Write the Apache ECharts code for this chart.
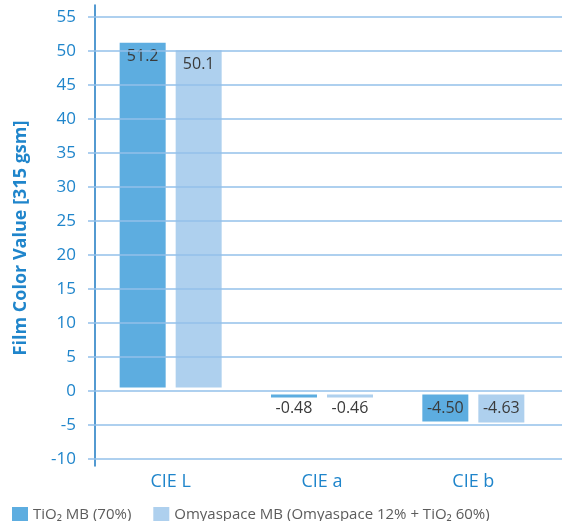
<!DOCTYPE html>
<html>
<head>
<meta charset="utf-8">
<script src="https://cdn.jsdelivr.net/npm/echarts@6/dist/echarts.min.js"></script>
<style>
  html, body { margin: 0; padding: 0; background: #ffffff; }
  #chart { width: 562px; height: 521px; }
</style>
</head>
<body>
<div id="chart"></div>
<script>
// Film colour values per CIE coordinate
const categories = ['CIE L', 'CIE a', 'CIE b'];
const tio2Values = [51.2, -0.48, -4.50];
const omyaValues = [50.1, -0.46, -4.63];
const labelDecimals = [1, 2, 2];
const seriesNames = ['TiO₂ MB (70%)', 'Omyaspace MB (Omyaspace 12% + TiO₂ 60%)'];
const yTicks = { min: -10, max: 55, step: 5 };

const FONT = '"Open Sans", "Noto Sans", sans-serif';
const BLUE_TEXT = '#1f85cb';
const GRID_COLOR = '#93c0ea';
const BAR_W = 46;      // px
const PAIR_GAP = 10;   // px between the two bars of a category
const BASE_GAP = 3.5;  // bars float slightly off the zero line
const MIN_H = 3;

function barRenderer(side) {
  return function (params, api) {
    const idx = api.value(0);
    const v = api.value(1);
    const zero = api.coord([idx, 0]);
    const end = api.coord([idx, v]);
    const x = side < 0 ? zero[0] - PAIR_GAP / 2 - BAR_W : zero[0] + PAIR_GAP / 2;
    const dir = v >= 0 ? -1 : 1;
    const nearY = zero[1] + dir * BASE_GAP;
    let farY = end[1];
    if ((farY - nearY) * dir < MIN_H) farY = nearY + dir * MIN_H;
    return {
      type: 'rect',
      shape: { x: x, y: Math.min(nearY, farY), width: BAR_W, height: Math.abs(farY - nearY) },
      style: { fill: api.visual('color') },
      textContent: {
        style: {
          text: v.toFixed(labelDecimals[idx]),
          fill: '#3a3a3a',
          fontSize: 16,
          fontFamily: FONT
        }
      },
      textConfig: { position: 'insideTop', distance: 6, inside: false }
    };
  };
}

const chart = echarts.init(document.getElementById('chart'), null, { renderer: 'canvas' });

chart.setOption({
  backgroundColor: '#ffffff',
  animation: false,
  textStyle: { fontFamily: FONT },
  legend: {
    left: 7,
    top: 502,
    itemWidth: 16,
    itemHeight: 16,
    itemGap: 22,
    icon: 'rect',
    textStyle: { fontSize: 15, color: '#5c5c5c', fontFamily: FONT },
    data: seriesNames
  },
  grid: [
    // gridlines, ticks and value labels
    { left: 95, right: 0, top: 17, bottom: 62, containLabel: false },
    // bars and category labels
    { left: 95, right: 13, top: 17, bottom: 62, containLabel: false },
    // vertical axis line (runs a little past the value range)
    { left: 95, right: 0, top: 5, bottom: 55, containLabel: false }
  ],
  xAxis: [
    { type: 'value', gridIndex: 0, show: false },
    {
      type: 'category', gridIndex: 1, data: categories,
      axisLine: { show: false }, axisTick: { show: false },
      axisLabel: { color: BLUE_TEXT, fontSize: 18, margin: 14, fontFamily: FONT }
    },
    { type: 'value', gridIndex: 2, show: false }
  ],
  yAxis: [
    {
      type: 'value', gridIndex: 0, z: 3,
      min: yTicks.min, max: yTicks.max, interval: yTicks.step,
      name: 'Film Color Value [315 gsm]',
      nameLocation: 'middle', nameRotate: 90, nameGap: 65,
      nameTextStyle: { color: BLUE_TEXT, fontSize: 18, fontWeight: 'bold', fontFamily: FONT },
      axisLine: { show: false },
      axisTick: { show: true, length: 7, lineStyle: { color: GRID_COLOR, width: 1.5 } },
      axisLabel: { color: BLUE_TEXT, fontSize: 17, margin: 19, fontFamily: FONT },
      splitLine: { show: true, lineStyle: { color: GRID_COLOR, width: 1.5 } }
    },
    {
      type: 'value', gridIndex: 1, show: false,
      min: yTicks.min, max: yTicks.max, interval: yTicks.step
    },
    {
      type: 'value', gridIndex: 2, min: 0, max: 1,
      axisLine: { show: true, lineStyle: { color: '#1a78c2', width: 1.5 } },
      axisTick: { show: false }, axisLabel: { show: false }, splitLine: { show: false }
    }
  ],
  series: [
    {
      name: seriesNames[0], type: 'custom', xAxisIndex: 1, yAxisIndex: 1,
      itemStyle: { color: '#5dade0' },
      encode: { x: 0, y: 1 },
      renderItem: barRenderer(-1),
      data: tio2Values.map((v, i) => [i, v])
    },
    {
      name: seriesNames[1], type: 'custom', xAxisIndex: 1, yAxisIndex: 1,
      itemStyle: { color: '#aed0ee' },
      encode: { x: 0, y: 1 },
      renderItem: barRenderer(1),
      data: omyaValues.map((v, i) => [i, v])
    }
  ]
});
</script>
</body>
</html>
